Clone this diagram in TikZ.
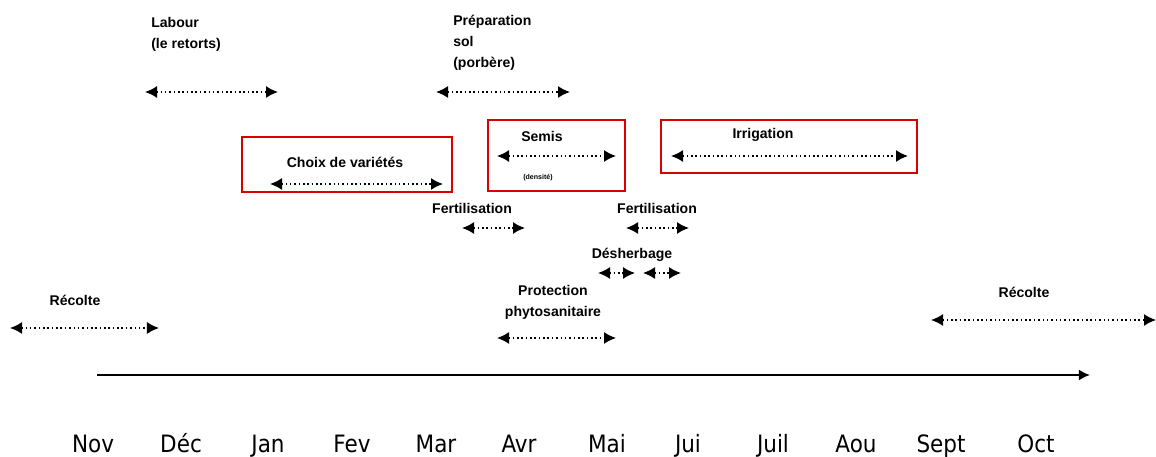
\documentclass[tikz,border=0pt]{standalone}
\usepackage{fontspec}
\setmainfont{Liberation Sans}
\newfontfamily\monthfont{DejaVu Sans Condensed}
\usetikzlibrary{arrows.meta}

\tikzset{
  period/.style={dotted,line width=1.1pt,{Latex[length=0.3cm,width=0.3cm]}-{Latex[length=0.3cm,width=0.3cm]}},
  lbl/.style={font=\bfseries\fontsize{10}{15}\selectfont,inner sep=0pt},
  box/.style={draw=red!85!black,line width=1.4pt,inner sep=0pt},
  month/.style={font=\monthfont\fontsize{17}{18}\selectfont,inner sep=0pt,anchor=base}
}

\begin{document}
\begin{tikzpicture}[x=0.025cm,y=-0.025cm]
  \useasboundingbox (0,0) rectangle (1156,457);

  % boxes
  \node[box,minimum width=5.25cm,minimum height=1.375cm] (choixbox) at (347,164.5) {};
  \node[box,minimum width=3.425cm,minimum height=1.775cm] (semisbox) at (556.5,155.5) {};
  \node[box,minimum width=6.4cm,minimum height=1.325cm] (irribox) at (789,146.5) {};

  % labels
  \node[lbl,align=left,anchor=north west] (labour) at (151,17) {Labour\\(le retorts)};
  \node[lbl,align=left,anchor=north west] (prep) at (453,15) {Préparation\\sol\\(porbère)};
  \node[lbl] (choix) at (345,162) {Choix de variétés};
  \node[lbl] (semis) at (542,136) {Semis};
  \node[lbl,font=\bfseries\fontsize{5}{6}\selectfont] (densite) at (538,178) {(densité)};
  \node[lbl] (irri) at (763,135) {Irrigation};
  \node[lbl] (fert1) at (472,208) {Fertilisation};
  \node[lbl] (fert2) at (657,208) {Fertilisation};
  \node[lbl] (desh) at (632,255) {Désherbage};
  \node[lbl,align=center] (protec) at (553,302) {Protection\\phytosanitaire};
  \node[lbl] (recolte1) at (75,300) {Récolte};
  \node[lbl] (recolte2) at (1024,292) {Récolte};

  % periods
  \coordinate (lab1) at (145,92);  \coordinate (lab2) at (278,92);
  \coordinate (prep1) at (436,92); \coordinate (prep2) at (570,92);
  \coordinate (cho1) at (270,184); \coordinate (cho2) at (443,184);
  \coordinate (sem1) at (497,156); \coordinate (sem2) at (616,156);
  \coordinate (irr1) at (671,156); \coordinate (irr2) at (908,156);
  \coordinate (fa1) at (462,228);  \coordinate (fa2) at (525,228);
  \coordinate (fb1) at (626,228);  \coordinate (fb2) at (689,228);
  \coordinate (da1) at (598,273);  \coordinate (da2) at (635,273);
  \coordinate (db1) at (643,273);  \coordinate (db2) at (681,273);
  \coordinate (pro1) at (497,338); \coordinate (pro2) at (616,338);
  \coordinate (rea1) at (10,328);  \coordinate (rea2) at (159,328);
  \coordinate (reb1) at (931,320); \coordinate (reb2) at (1156,320);

  \path (lab1) edge[period] (lab2);
  \path (prep1) edge[period] (prep2);
  \path (cho1) edge[period] (cho2);
  \path (sem1) edge[period] (sem2);
  \path (irr1) edge[period] (irr2);
  \path (fa1) edge[period] (fa2);
  \path (fb1) edge[period] (fb2);
  \path (da1) edge[period] (da2);
  \path (db1) edge[period] (db2);
  \path (pro1) edge[period] (pro2);
  \path (rea1) edge[period] (rea2);
  \path (reb1) edge[period] (reb2);

  % time axis
  \coordinate (axstart) at (97,375);
  \coordinate (axend) at (1090,375);
  \path (axstart) edge[line width=1.6pt,-{Latex[length=0.28cm,width=0.28cm]}] (axend);

  % months
  \node[month] (nov) at (93,452) {Nov};
  \node[month] (dec) at (181,452) {Déc};
  \node[month] (jan) at (268,452) {Jan};
  \node[month] (fev) at (352,452) {Fev};
  \node[month] (mar) at (436,452) {Mar};
  \node[month] (avr) at (519,452) {Avr};
  \node[month] (mai) at (607,452) {Mai};
  \node[month] (jui) at (688,452) {Jui};
  \node[month] (juil) at (773,452) {Juil};
  \node[month] (aou) at (856,452) {Aou};
  \node[month] (sept) at (941,452) {Sept};
  \node[month] (oct) at (1036,452) {Oct};
\end{tikzpicture}
\end{document}
